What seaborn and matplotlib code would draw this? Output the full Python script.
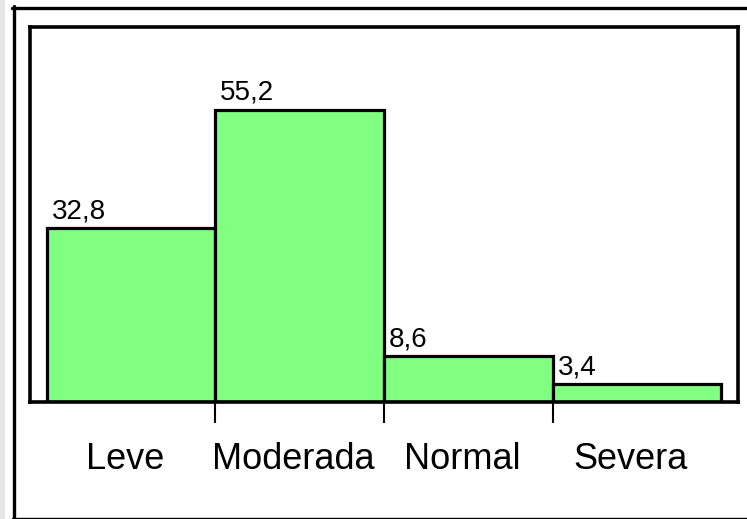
import matplotlib
matplotlib.use("Agg")
import matplotlib.pyplot as plt
import matplotlib.transforms as mtransforms
import seaborn as sns
import pandas as pd
from matplotlib.lines import Line2D
from matplotlib.patches import Rectangle

categories = ["Leve", "Moderada", "Normal", "Severa"]
values = [32.8, 55.2, 8.6, 3.4]
value_labels = ["32,8", "55,2", "8,6", "3,4"]

sns.set_style("white")
plt.rcParams['font.family'] = ['Liberation Sans Narrow', 'Liberation Sans', 'DejaVu Sans']
plt.rcParams['text.color'] = 'black'
plt.rcParams['xtick.color'] = 'black'
plt.rcParams['xtick.labelcolor'] = 'black'

W, H = 747, 519
fig = plt.figure(figsize=(W / 100, H / 100), dpi=100)
ax = fig.add_axes([30 / W, 1 - 402 / H, (738 - 30) / W, (402 - 27) / H])

df = pd.DataFrame({"cat": categories, "val": values})
sns.barplot(data=df, x="cat", y="val", ax=ax, width=1.0, color="#80FF80",
            edgecolor="black", linewidth=2.3, saturation=1)

ax.set_xlim(-0.6, 3.6)
ax.set_ylim(0, 70.8)
ax.set_xlabel("")
ax.set_ylabel("")
ax.set_yticks([])
for s in ax.spines.values():
    s.set_linewidth(2.6)
    s.set_color("black")
    s.set_visible(True)

ax.set_xticks(range(len(categories)))
ax.set_xticklabels(categories)
ax.set_xticks([0.5, 1.5, 2.5], minor=True)
ax.tick_params(axis="x", which="major", bottom=True, length=0, pad=29,
               labelsize=26, labelcolor="black")
ax.tick_params(axis="x", which="minor", bottom=True, length=15, width=1.5,
               color="black", direction="out")

shift = mtransforms.ScaledTranslation(-6 / 100, 0, fig.dpi_scale_trans)
for lbl in ax.get_xticklabels():
    lbl.set_transform(lbl.get_transform() + shift)

for i, (v, lab) in enumerate(zip(values, value_labels)):
    ax.annotate(lab, xy=(i - 0.5, v), xytext=(3.5, 7), textcoords="offset points",
                ha="left", va="baseline", fontsize=20, color="black")

# outer frame
fig.add_artist(Rectangle((0, 0), 5 / W, 1, transform=fig.transFigure,
                         facecolor="#e6e6e6", edgecolor="none"))
fig.add_artist(Line2D([13.5 / W, 13.5 / W], [1 - 6 / H, 1 - 518 / H],
                      transform=fig.transFigure, color="black", linewidth=2.4))
fig.add_artist(Line2D([12 / W, 1], [1 - 7.5 / H, 1 - 7.5 / H],
                      transform=fig.transFigure, color="black", linewidth=2.4))
fig.add_artist(Line2D([12 / W, 1], [1 - 517.5 / H, 1 - 517.5 / H],
                      transform=fig.transFigure, color="black", linewidth=1.0))

fig.savefig("out.png", dpi=100)
